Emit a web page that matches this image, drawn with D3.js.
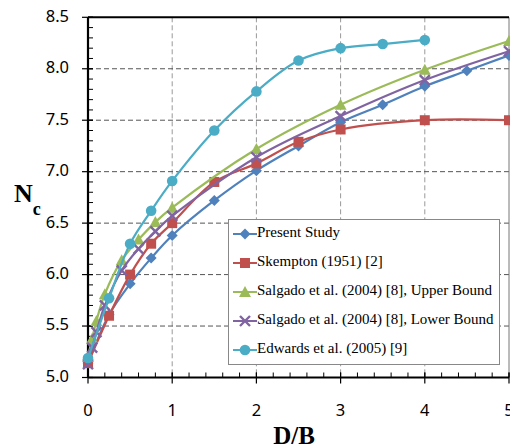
<!DOCTYPE html>
<html>
<head>
<meta charset="utf-8">
<script src="https://cdn.jsdelivr.net/npm/d3@7"></script>
<style>
  body { margin: 0; background: #fff; }
  svg { display: block; }
</style>
</head>
<body>
<div id="chart"></div>
<script>
// data
const xTicks = [0, 1, 2, 3, 4, 5];
const yTicks = [5.0, 5.5, 6.0, 6.5, 7.0, 7.5, 8.0, 8.5];

const presentX = [0, 0.25, 0.5, 0.75, 1, 1.5, 2, 2.5, 3, 3.5, 4, 4.5, 5];
const presentY = [5.14, 5.61, 5.91, 6.16, 6.38, 6.72, 7.01, 7.25, 7.48, 7.65, 7.83, 7.98, 8.13];

const skemptonX = [0, 0.25, 0.5, 0.75, 1, 1.5, 2, 2.5, 3, 4, 5];
const skemptonY = [5.14, 5.6, 6.0, 6.3, 6.5, 6.9, 7.08, 7.29, 7.41, 7.5, 7.5];

const salgadoX = [0, 0.05, 0.1, 0.2, 0.4, 0.6, 0.8, 1, 2, 3, 4, 5];
const upperY = [5.2, 5.38, 5.55, 5.81, 6.14, 6.34, 6.51, 6.65, 7.22, 7.65, 7.99, 8.27];
const lowerY = [5.13, 5.29, 5.44, 5.7, 6.04, 6.25, 6.42, 6.57, 7.14, 7.54, 7.89, 8.17];

const edwardsX = [0, 0.25, 0.5, 0.75, 1, 1.5, 2, 2.5, 3, 3.5, 4];
const edwardsY = [5.19, 5.77, 6.3, 6.62, 6.91, 7.4, 7.78, 8.08, 8.2, 8.24, 8.28];

const seriesNames = [
  "Present Study",
  "Skempton (1951) [2]",
  "Salgado et al. (2004) [8], Upper Bound",
  "Salgado et al. (2004) [8], Lower Bound",
  "Edwards et al. (2005) [9]"
];

const series = [
  { name: seriesNames[0], xs: presentX, ys: presentY, color: "#4F81BD", shape: "diamond" },
  { name: seriesNames[1], xs: skemptonX, ys: skemptonY, color: "#C0504D", shape: "square" },
  { name: seriesNames[2], xs: salgadoX, ys: upperY, color: "#9BBB59", shape: "triangle" },
  { name: seriesNames[3], xs: salgadoX, ys: lowerY, color: "#8064A2", shape: "x" },
  { name: seriesNames[4], xs: edwardsX, ys: edwardsY, color: "#4BACC6", shape: "circle" }
];

const width = 510, height = 446;
const svg = d3.select("#chart").append("svg")
  .attr("width", width).attr("height", height);

const x = d3.scaleLinear().domain([0, 5]).range([88, 509]);
const y = d3.scaleLinear().domain([5, 8.5]).range([377.5, 17.3]);

// gridlines
svg.append("g").selectAll("line")
  .data(xTicks.filter(d => d > 0 && d < 5))
  .join("line")
  .attr("x1", d => x(d)).attr("x2", d => x(d))
  .attr("y1", y(8.5)).attr("y2", y(5))
  .attr("stroke", "#999").attr("stroke-width", 1)
  .attr("stroke-dasharray", "5,3");

svg.append("g").selectAll("line")
  .data(yTicks.filter(d => d > 5 && d < 8.5))
  .join("line")
  .attr("x1", x(0)).attr("x2", x(5))
  .attr("y1", d => y(d)).attr("y2", d => y(d))
  .attr("stroke", "#555").attr("stroke-width", 1)
  .attr("stroke-dasharray", "5,3");

// frame: right border thin, top thick
svg.append("line")
  .attr("x1", x(5)).attr("x2", x(5)).attr("y1", y(8.5)).attr("y2", y(5))
  .attr("stroke", "#777").attr("stroke-width", 1);
svg.append("line")
  .attr("x1", x(0)).attr("x2", x(5)).attr("y1", y(8.5)).attr("y2", y(8.5))
  .attr("stroke", "#000").attr("stroke-width", 2);

// axes
const xAxis = svg.append("g").attr("transform", `translate(0,${y(5)})`);
xAxis.append("line").attr("x1", x(0)).attr("x2", x(5)).attr("stroke", "#000").attr("stroke-width", 2.2);
xAxis.selectAll(".minor").data(d3.range(0, 5.001, 0.2))
  .join("line")
  .attr("x1", d => x(d)).attr("x2", d => x(d))
  .attr("y1", -5).attr("y2", 0)
  .attr("stroke", "#000").attr("stroke-width", 1);
xAxis.selectAll(".major").data(xTicks)
  .join("line")
  .attr("x1", d => x(d)).attr("x2", d => x(d))
  .attr("y1", -5).attr("y2", 6)
  .attr("stroke", "#000").attr("stroke-width", 1.2);
xAxis.selectAll("text").data(xTicks)
  .join("text")
  .attr("x", d => x(d)).attr("y", 34)
  .attr("text-anchor", "middle")
  .attr("dominant-baseline", "middle")
  .attr("font-family", "Noto Sans, sans-serif")
  .attr("font-size", 16.5)
  .text(d => d);

const yAxis = svg.append("g").attr("transform", `translate(${x(0)},0)`);
yAxis.append("line").attr("y1", y(5)).attr("y2", y(8.5)).attr("stroke", "#000").attr("stroke-width", 2.2);
yAxis.selectAll(".minor").data(d3.range(5, 8.501, 0.1))
  .join("line")
  .attr("y1", d => y(d)).attr("y2", d => y(d))
  .attr("x1", 0).attr("x2", 5)
  .attr("stroke", "#000").attr("stroke-width", 1);
yAxis.selectAll(".major").data(yTicks)
  .join("line")
  .attr("y1", d => y(d)).attr("y2", d => y(d))
  .attr("x1", -6).attr("x2", 5)
  .attr("stroke", "#000").attr("stroke-width", 1.2);
yAxis.selectAll("text").data(yTicks)
  .join("text")
  .attr("x", -19).attr("y", d => y(d))
  .attr("text-anchor", "end")
  .attr("dominant-baseline", "middle")
  .attr("font-family", "Noto Sans, sans-serif")
  .attr("font-size", 16.5)
  .text(d => d.toFixed(1));

// axis titles
const ytitle = svg.append("text")
  .attr("x", 14).attr("y", 202)
  .attr("font-family", "Liberation Serif, Times New Roman, serif")
  .attr("font-weight", "bold")
  .attr("font-size", 26);
ytitle.append("tspan").text("N");
ytitle.append("tspan").attr("font-size", 18).attr("dy", 13).text("c");

svg.append("text")
  .attr("x", 294).attr("y", 444)
  .attr("text-anchor", "middle")
  .attr("font-family", "Liberation Serif, Times New Roman, serif")
  .attr("font-weight", "bold")
  .attr("font-size", 25)
  .text("D/B");

// marker path helper
function markerPath(shape) {
  switch (shape) {
    case "diamond": return "M0,-5.5L5.5,0L0,5.5L-5.5,0Z";
    case "square": return "M-5,-5H5V5H-5Z";
    case "triangle": return "M0,-6L6,5H-6Z";
    case "x": return "M-5,-5L5,5M5,-5L-5,5";
    default: return null;
  }
}

function drawMarker(g, shape, color) {
  if (shape === "circle") {
    g.append("circle").attr("r", 5.3).attr("fill", color);
  } else if (shape === "x") {
    g.append("path").attr("d", markerPath(shape))
      .attr("stroke", color).attr("stroke-width", 2.4).attr("fill", "none");
  } else {
    g.append("path").attr("d", markerPath(shape)).attr("fill", color);
  }
}

const line = d3.line()
  .x(d => x(d[0])).y(d => y(d[1]))
  .curve(d3.curveCatmullRom.alpha(0.5));

series.forEach(s => {
  const pts = s.xs.map((v, i) => [v, s.ys[i]]);
  const g = svg.append("g");
  g.append("path")
    .datum(pts)
    .attr("d", line)
    .attr("fill", "none")
    .attr("stroke", s.color)
    .attr("stroke-width", 2.2);
  pts.forEach(p => {
    const m = g.append("g").attr("transform", `translate(${x(p[0])},${y(p[1])})`);
    drawMarker(m, s.shape, s.color);
  });
});

// legend
const legend = svg.append("g");
legend.append("rect")
  .attr("x", 228.5).attr("y", 219.5)
  .attr("width", 271).attr("height", 145)
  .attr("fill", "#fff").attr("stroke", "#888").attr("stroke-width", 1);

series.forEach((s, i) => {
  const ly = 234 + i * 29;
  const row = legend.append("g");
  row.append("line")
    .attr("x1", 233).attr("x2", 257)
    .attr("y1", ly).attr("y2", ly)
    .attr("stroke", s.color).attr("stroke-width", 2);
  const m = row.append("g").attr("transform", `translate(245,${ly})`);
  drawMarker(m, s.shape, s.color);
  row.append("text")
    .attr("x", 257).attr("y", ly)
    .attr("dominant-baseline", "middle")
    .attr("font-family", "Liberation Serif, Times New Roman, serif")
    .attr("font-size", 15)
    .text(s.name);
});
</script>
</body>
</html>
